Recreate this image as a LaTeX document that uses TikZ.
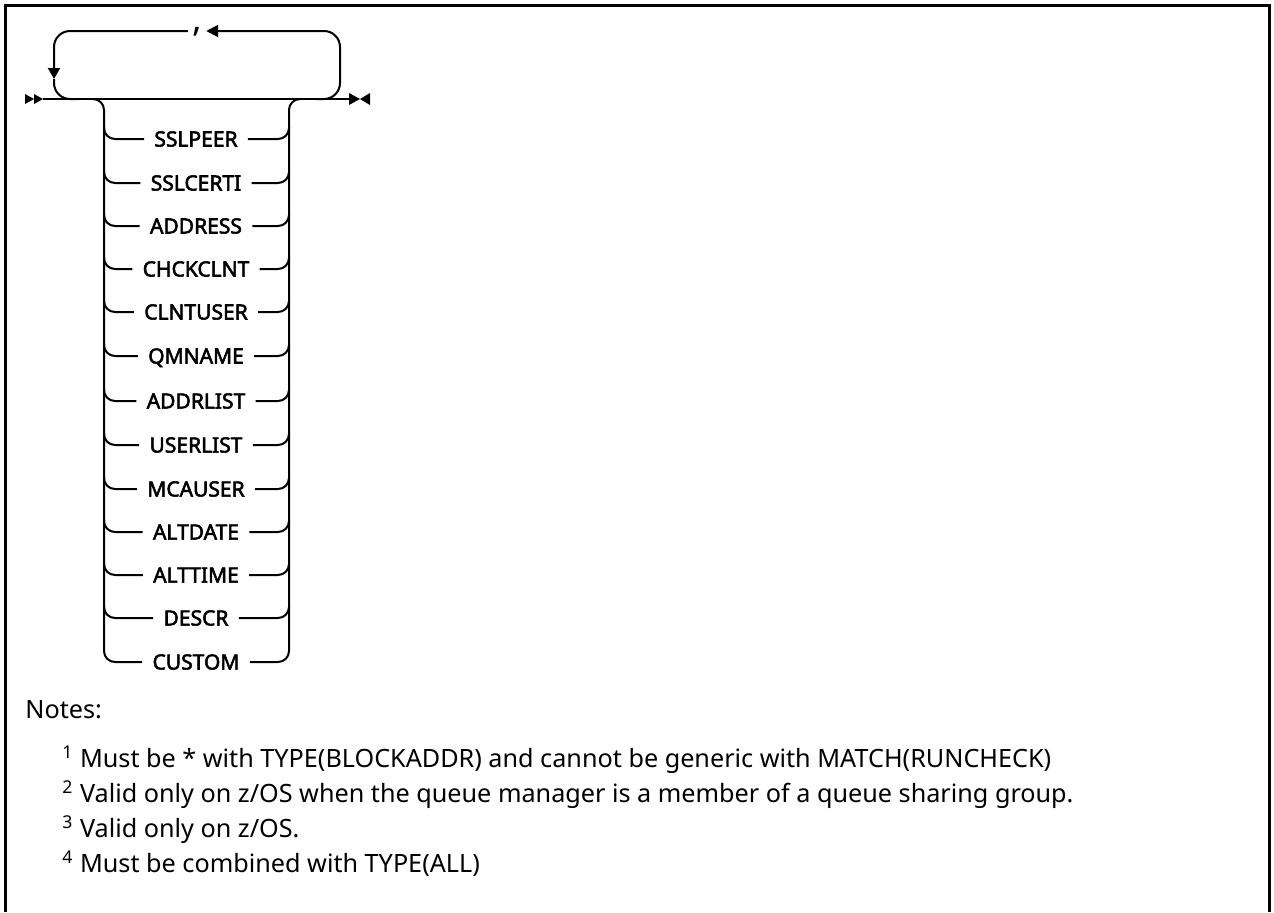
\documentclass[tikz,border=0pt]{standalone}
\usepackage{fontspec}
\setmainfont{Noto Sans}
\newfontfamily\railfont[FakeBold=2.5]{Noto Sans}
\usetikzlibrary{arrows.meta}

\tikzset{
  rail/.style={line width=1pt, rounded corners=5.5pt},
  lazo/.style={line width=1pt, rounded corners=8pt},
  kw/.style={font=\railfont\fontsize{10.5}{12}\selectfont, inner xsep=5pt, inner ysep=0pt, text height=7.5pt, text depth=0pt},
  note/.style={font=\fontsize{12.6}{14}\selectfont, inner sep=0pt, anchor=base west},
  punta/.style={-{Triangle[length=6pt,width=6pt]}},
}

\begin{document}
\begin{tikzpicture}[x=0.5pt, y=-0.5pt]
    \useasboundingbox (0,0) rectangle (1274,912);

    % Marco
    \draw[line width=1.5pt] (5.5,912) -- (5.5,5.5) -- (1269,5.5) -- (1269,912);

    % Linea principal con sus marcas de inicio y fin
    \coordinate (ini) at (43,99);
    \coordinate (fin) at (349,99);
    \fill (25,94) -- (34,99) -- (25,104) -- cycle;
    \fill (34,94) -- (43,99) -- (34,104) -- cycle;
    \fill (349,93) -- (360,99) -- (349,105) -- cycle;
    \fill (370,93) -- (360,99) -- (370,105) -- cycle;
    \draw[line width=1pt] (ini) -- (fin);

    % Lazo de repeticion
    \node[font=\bfseries\fontsize{18}{18}\selectfont, inner xsep=2pt, text height=3pt, text depth=3pt] (coma) at (197,31) {,};
    \draw[lazo, punta] (316,99) -- (340,99) -- (340,31) -- (coma.east);
    \draw[lazo, -{Triangle[length=5.5pt,width=6pt]}] (coma.west) -- (54,31) -- (54,79);
    \draw[lazo] (54,79) -- (54,99) -- (78,99);

    % Opciones
    \node[kw] (sslpeer) at (196,139) {SSLPEER};
    \node[kw] (sslcerti) at (196,183) {SSLCERTI};
    \node[kw] (address) at (196,226) {ADDRESS};
    \node[kw] (chckclnt) at (196,269) {CHCKCLNT};
    \node[kw] (clntuser) at (196,312) {CLNTUSER};
    \node[kw] (qmname) at (196,356) {QMNAME};
    \node[kw] (addrlist) at (196,401) {ADDRLIST};
    \node[kw] (userlist) at (196,445) {USERLIST};
    \node[kw] (mcauser) at (196,489) {MCAUSER};
    \node[kw] (altdate) at (196,532) {ALTDATE};
    \node[kw] (alttime) at (196,575) {ALTTIME};
    \node[kw] (descr) at (196,618) {DESCR};
    \node[kw] (custom) at (196,662) {CUSTOM};

    % Bajada izquierda y subida derecha
    \draw[rail] (92,99) -- (104,99) -- (104,662) -- (custom.west);
    \draw[rail] (custom.east) -- (289,662) -- (289,99) -- (301,99);

    % Ramas hacia cada opcion
    \draw[rail] (104,127) -- (104,139) -- (sslpeer.west);
    \draw[rail] (sslpeer.east) -- (289,139) -- (289,127);
    \draw[rail] (104,171) -- (104,183) -- (sslcerti.west);
    \draw[rail] (sslcerti.east) -- (289,183) -- (289,171);
    \draw[rail] (104,214) -- (104,226) -- (address.west);
    \draw[rail] (address.east) -- (289,226) -- (289,214);
    \draw[rail] (104,257) -- (104,269) -- (chckclnt.west);
    \draw[rail] (chckclnt.east) -- (289,269) -- (289,257);
    \draw[rail] (104,300) -- (104,312) -- (clntuser.west);
    \draw[rail] (clntuser.east) -- (289,312) -- (289,300);
    \draw[rail] (104,344) -- (104,356) -- (qmname.west);
    \draw[rail] (qmname.east) -- (289,356) -- (289,344);
    \draw[rail] (104,389) -- (104,401) -- (addrlist.west);
    \draw[rail] (addrlist.east) -- (289,401) -- (289,389);
    \draw[rail] (104,433) -- (104,445) -- (userlist.west);
    \draw[rail] (userlist.east) -- (289,445) -- (289,433);
    \draw[rail] (104,477) -- (104,489) -- (mcauser.west);
    \draw[rail] (mcauser.east) -- (289,489) -- (289,477);
    \draw[rail] (104,520) -- (104,532) -- (altdate.west);
    \draw[rail] (altdate.east) -- (289,532) -- (289,520);
    \draw[rail] (104,563) -- (104,575) -- (alttime.west);
    \draw[rail] (alttime.east) -- (289,575) -- (289,563);
    \draw[rail] (104,606) -- (104,618) -- (descr.west);
    \draw[rail] (descr.east) -- (289,618) -- (289,606);

    % Notas
    \node[note] (notas) at (25,718) {Notes:};
    \node[note] (n1) at (62,767) {\textsuperscript{1} Must be * with TYPE(BLOCKADDR) and cannot be generic with MATCH(RUNCHECK)};
    \node[note] (n2) at (62,802) {\textsuperscript{2} Valid only on z/OS when the queue manager is a member of a queue sharing group.};
    \node[note] (n3) at (62,837) {\textsuperscript{3} Valid only on z/OS.};
    \node[note] (n4) at (62,872) {\textsuperscript{4} Must be combined with TYPE(ALL)};
\end{tikzpicture}
\end{document}
